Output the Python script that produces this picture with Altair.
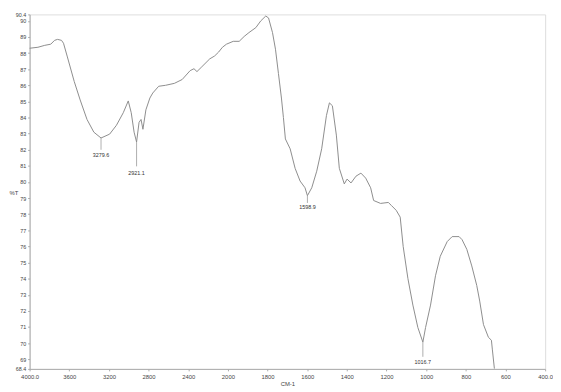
import altair as alt
import pandas as pd

# Spectrum trace (wavenumber cm-1, %T)
wavenumber = [4000, 3916, 3847, 3787, 3748, 3718, 3678, 3658, 3619, 3550, 3490, 3421, 3352,
              3279.6, 3193, 3124, 3055, 3005, 2975, 2946, 2921.1, 2896, 2876, 2857, 2827, 2787,
              2758, 2698, 2629, 2540, 2461, 2381, 2342, 2312, 2263, 2183, 2134, 2094, 2055, 2015,
              1973, 1943, 1918, 1894, 1859, 1834, 1809, 1795, 1775, 1760, 1745, 1730, 1720, 1710,
              1686, 1661, 1636, 1611, 1598.9, 1577, 1552, 1527, 1503, 1488, 1473, 1453, 1438,
              1413, 1399, 1379, 1354, 1329, 1305, 1280, 1265, 1230, 1191, 1176, 1151, 1131, 1116,
              1092, 1067, 1042, 1016.7, 1003, 978, 953, 929, 894, 869, 834, 819, 795, 770, 745,
              730, 711, 686, 671, 666, 656]
transmittance = [88.30, 88.36, 88.48, 88.55, 88.79, 88.85, 88.79, 88.61, 87.76, 86.24, 85.09,
                 83.88, 83.09, 82.73, 82.97, 83.52, 84.30, 85.03, 84.30, 83.09, 82.48, 83.70,
                 83.88, 83.27, 84.48, 85.21, 85.52, 85.94, 86.00, 86.12, 86.36, 86.91, 87.03,
                 86.85, 87.15, 87.64, 87.82, 88.06, 88.36, 88.55, 88.73, 88.73, 89.03, 89.27,
                 89.58, 90.00, 90.30, 90.18, 89.27, 88.24, 86.73, 85.21, 84.00, 82.67, 82.06,
                 80.85, 80.06, 79.64, 79.15, 79.64, 80.67, 82.06, 84.12, 84.91, 84.73, 82.91,
                 80.85, 79.88, 80.18, 79.94, 80.36, 80.55, 80.24, 79.64, 78.85, 78.67, 78.73,
                 78.55, 78.24, 77.82, 76.00, 74.00, 72.36, 70.97, 70.06, 70.97, 72.36, 74.18,
                 75.39, 76.30, 76.61, 76.61, 76.42, 75.82, 74.79, 73.58, 72.61, 71.15, 70.36,
                 70.18, 69.58, 68.42]

# Peak annotations
peak_pos = [3279.6, 2921.1, 1598.9, 1016.7]
peak_min = [82.73, 82.48, 79.15, 70.06]
peak_line_end = [82.0, 80.97, 78.7, 69.15]
peak_label_y = [81.7, 80.55, 78.45, 68.85]
peak_text = ["3279.6", "2921.1", "1598.9", "1016.7"]

x_ticks = [4000, 3600, 3200, 2800, 2400, 2000, 1800, 1600, 1400, 1200, 1000, 800, 600, 400]
y_ticks = [68.4] + list(range(69, 91)) + [90.4]

W, H = 525, 361

spec = pd.DataFrame({"w": wavenumber, "t": transmittance, "i": range(len(wavenumber))})
peaks = pd.DataFrame({"w": peak_pos, "t0": peak_min, "t1": peak_line_end,
                      "tl": peak_label_y, "lab": peak_text})

xscale = alt.Scale(domain=[4000, 2000, 400], range=[0, W * 5 / 13, W], nice=False, zero=False)
yscale = alt.Scale(domain=[68.4, 90.4], nice=False, zero=False)

xaxis = alt.Axis(values=x_ticks, tickCount=40, title="CM-1", grid=False, tickSize=2,
                 labelExpr="datum.value == 4000 || datum.value == 400 ? format(datum.value, '.1f') : format(datum.value, 'd')",
                 labelFontSize=6, labelColor="#444", labelPadding=3, labelFlush=False,
                 labelOverlap=False,
                 titleFontSize=6, titleFontWeight="normal", titleColor="#444", titlePadding=1,
                 domainColor="#aaa", tickColor="#aaa")
yaxis = alt.Axis(values=y_ticks, tickCount=40, title="%T", grid=False, tickSize=2,
                 labelExpr="datum.value == 90.4 || datum.value == 68.4 ? format(datum.value, '.1f') : format(datum.value, 'd')",
                 labelFontSize=5.5, labelColor="#444", labelPadding=2, labelFlush=False,
                 labelOverlap=False,
                 titleFontSize=6, titleFontWeight="normal", titleColor="#444",
                 titleAngle=0, titleX=-21, titleY=H * 11.4 / 22 - 3, titleAlign="left",
                 domainColor="#aaa", tickColor="#aaa")

line = alt.Chart(spec).mark_line(color="#8c8c8c", strokeWidth=1).encode(
    x=alt.X("w:Q", scale=xscale, axis=xaxis),
    y=alt.Y("t:Q", scale=yscale, axis=yaxis),
    order="i:Q",
)

rules = alt.Chart(peaks).mark_rule(color="#999", strokeWidth=0.8).encode(
    x=alt.X("w:Q", scale=xscale),
    y=alt.Y("t0:Q", scale=yscale),
    y2="t1:Q",
)

texts = alt.Chart(peaks).mark_text(fontSize=5.5, color="#333", baseline="middle").encode(
    x=alt.X("w:Q", scale=xscale),
    y=alt.Y("tl:Q", scale=yscale),
    text="lab:N",
)

chart = alt.layer(line, rules, texts).properties(
    width=W, height=H,
    autosize=alt.AutoSizeParams(type="none"),
    padding={"left": 22, "top": 3, "right": 8, "bottom": 20},
).configure_view(stroke=None).configure(font="Liberation Sans").configure_axis(labelOverlap=False)

chart.save("out.html", embed_options={"renderer": "svg", "actions": False})
